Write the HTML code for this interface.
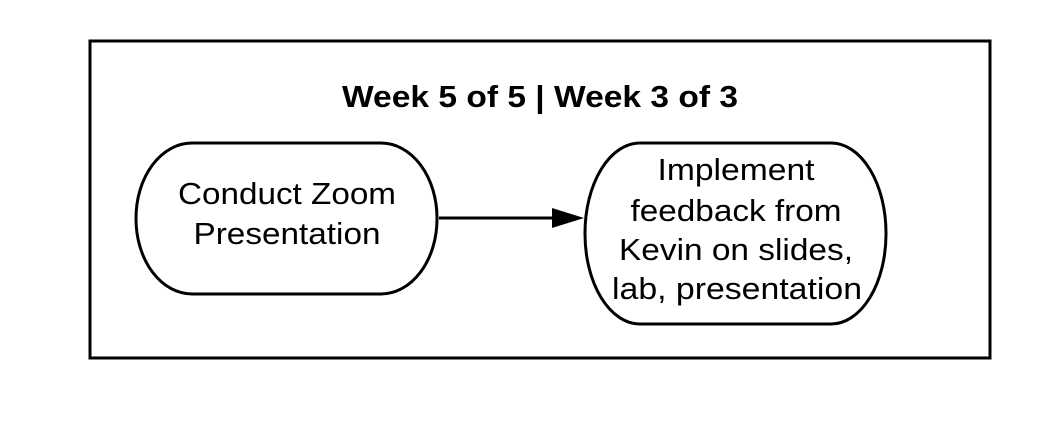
<!DOCTYPE html>
<html><head><style>html,body{margin:0;padding:0;background:#fff;}svg{display:block}</style></head>
<body>
<svg width="1059" height="428" xmlns="http://www.w3.org/2000/svg" font-family="Liberation Sans, Arial, sans-serif">
<rect x="0" y="0" width="1059" height="428" fill="#fff"/>
<rect x="90" y="41" width="900" height="317" fill="none" stroke="#000" stroke-width="3"/>
<text x="540" y="107" text-anchor="middle" font-size="31" font-weight="bold" textLength="396" lengthAdjust="spacingAndGlyphs">Week 5 of 5 | Week 3 of 3</text>
<rect x="136" y="143" width="301" height="151" rx="56" ry="75" fill="#fff" stroke="#000" stroke-width="3"/>
<text x="287" y="204" text-anchor="middle" font-size="31" textLength="218" lengthAdjust="spacingAndGlyphs">Conduct Zoom</text>
<text x="287" y="244" text-anchor="middle" font-size="31" textLength="187" lengthAdjust="spacingAndGlyphs">Presentation</text>
<line x1="439" y1="218" x2="553" y2="218" stroke="#000" stroke-width="3"/>
<polygon points="552,208 584,218 552,228" fill="#000"/>
<rect x="585" y="143" width="301" height="181" rx="55" ry="90" fill="#fff" stroke="#000" stroke-width="3"/>
<text x="736" y="180" text-anchor="middle" font-size="31" textLength="157" lengthAdjust="spacingAndGlyphs">Implement</text>
<text x="736" y="221" text-anchor="middle" font-size="31" textLength="211" lengthAdjust="spacingAndGlyphs">feedback from</text>
<text x="736" y="260" text-anchor="middle" font-size="31" textLength="234" lengthAdjust="spacingAndGlyphs">Kevin on slides,</text>
<text x="737" y="299" text-anchor="middle" font-size="31" textLength="250" lengthAdjust="spacingAndGlyphs">lab, presentation</text>
</svg>
</body></html>
